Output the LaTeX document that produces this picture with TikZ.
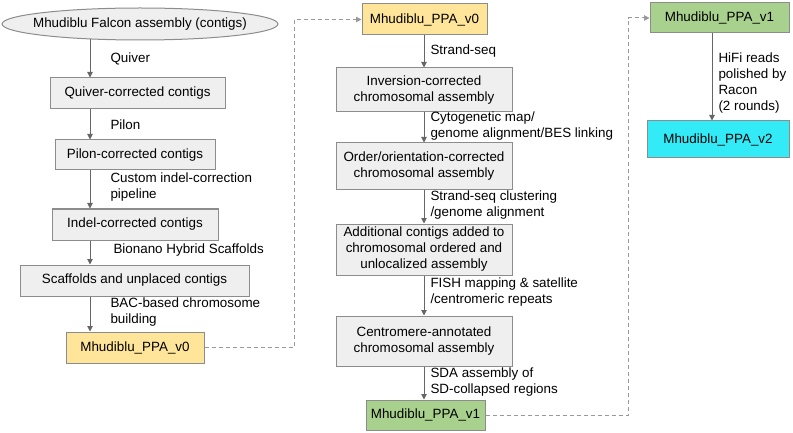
\documentclass[tikz,border=0pt]{standalone}
\usepackage{fontspec}
\setmainfont{Liberation Sans}
\usetikzlibrary{shapes}
\usetikzlibrary{arrows.meta}
\usetikzlibrary{positioning}
\definecolor{grisfond}{HTML}{EFEFEF}
\definecolor{grisbord}{HTML}{8C8C8C}
\definecolor{jaune}{HTML}{FFE599}
\definecolor{vert}{HTML}{A9D18E}
\definecolor{bleuclair}{HTML}{33EBF7}
\tikzstyle{debutfin}=[ellipse,draw=grisbord,fill=grisfond,line width=1pt,inner sep=0pt]
\tikzstyle{instruct}=[rectangle,draw=grisbord,fill=grisfond,line width=1pt,inner sep=0pt,align=center]
\tikzstyle{suite}=[-{Triangle[length=5.5pt,width=5.5pt]},draw=black!60,line width=1pt]
\tikzstyle{pointille}=[suite,draw=black!40,dash pattern=on 4pt off 3pt]
\tikzstyle{etiq}=[anchor=west,align=left,inner sep=0pt]

\begin{document}
\begin{tikzpicture}[x=1pt,y=-1pt,font=\fontsize{13.4}{16}\selectfont]
\useasboundingbox (0,0) rectangle (793,433);
% colonne gauche
\node[debutfin,minimum width=276,minimum height=32] (falcon) at (140,24) {\makebox[0pt]{Mhudiblu Falcon assembly (contigs)}};
\node[instruct,minimum width=175,minimum height=31] (quiver) at (137.5,93.5) {Quiver-corrected contigs};
\node[instruct,minimum width=160,minimum height=30] (pilon) at (135,155) {Pilon-corrected contigs};
\node[instruct,minimum width=166,minimum height=31] (indel) at (135,224.5) {Indel-corrected contigs};
\node[instruct,minimum width=229,minimum height=31] (scaff) at (134.5,280.5) {Scaffolds and unplaced contigs};
\node[instruct,fill=jaune,minimum width=138,minimum height=31] (vzero) at (135,347.5) {Mhudiblu\_PPA\_v0};
% colonne milieu
\node[instruct,fill=jaune,minimum width=125,minimum height=31] (vzerob) at (424.5,19.5) {Mhudiblu\_PPA\_v0};
\node[instruct,minimum width=176,minimum height=44] (invers) at (424,90) {Inversion-corrected\\chromosomal assembly};
\node[instruct,minimum width=176,minimum height=47] (ordre) at (424,166.5) {Order/orientation-corrected\\chromosomal assembly};
\node[instruct,minimum width=176,minimum height=51] (ajout) at (424,249.5) {Additional contigs added to\\chromosomal ordered and\\unlocalized assembly};
\node[instruct,minimum width=176,minimum height=50] (centro) at (424,341) {Centromere-annotated\\chromosomal assembly};
\node[instruct,fill=vert,minimum width=119,minimum height=30] (vun) at (425.5,415) {Mhudiblu\_PPA\_v1};
% colonne droite
\node[instruct,fill=vert,minimum width=139,minimum height=30] (vunb) at (719.5,18) {Mhudiblu\_PPA\_v1};
\node[instruct,fill=bleuclair,minimum width=142,minimum height=37] (vdeux) at (718,139.5) {Mhudiblu\_PPA\_v2};
\coordinate (lx) at (90,0);
\coordinate (mx) at (424,0);
\coordinate (rx) at (712,0);
\coordinate (da) at (294,0);
\coordinate (db) at (628,0);
%Placementdesflèches
\draw[suite] (falcon.south -| lx) ++(0,-1) -- (quiver.north -| lx) node[etiq,midway,xshift=20pt]{Quiver};
\draw[suite] (quiver.south -| lx) -- (pilon.north -| lx) node[etiq,midway,xshift=20pt]{Pilon};
\draw[suite] (pilon.south -| lx) -- (indel.north -| lx) node[etiq,midway,xshift=20pt,yshift=2pt]{Custom indel-correction\\pipeline};
\draw[suite] (indel.south -| lx) -- (scaff.north -| lx) node[etiq,midway,xshift=23pt,yshift=2pt]{Bionano Hybrid Scaffolds};
\draw[suite] (scaff.south -| lx) -- (vzero.north -| lx) node[etiq,midway,xshift=20pt,yshift=2pt]{BAC-based chromosome\\building};
\draw[suite] (vzerob.south -| mx) -- (invers.north -| mx) node[etiq,midway,xshift=6pt]{Strand-seq};
\draw[suite] (invers.south -| mx) -- (ordre.north -| mx) node[etiq,midway,xshift=6pt,yshift=1pt]{Cytogenetic map/\\genome alignment/BES linking};
\draw[suite] (ordre.south -| mx) -- (ajout.north -| mx) node[etiq,midway,xshift=6pt,yshift=2pt]{Strand-seq clustering\\/genome alignment};
\draw[suite] (ajout.south -| mx) -- (centro.north -| mx) node[etiq,midway,xshift=6pt,yshift=3pt]{FISH mapping \& satellite\\/centromeric repeats};
\draw[suite] (centro.south -| mx) -- (vun.north -| mx) node[etiq,midway,xshift=6pt,yshift=1pt]{SDA assembly of\\SD-collapsed regions};
\draw[suite] (vunb.south -| rx) -- (vdeux.north -| rx) node[etiq,midway,xshift=6pt,yshift=-6pt]{HiFi reads\\polished by\\Racon\\(2 rounds)};
\draw[pointille] (vzero.east) -- (vzero.east -| da) |- (vzerob.west);
\draw[pointille] (vun.east) -- (vun.east -| db) |- (vunb.west);
\end{tikzpicture}
\end{document}
